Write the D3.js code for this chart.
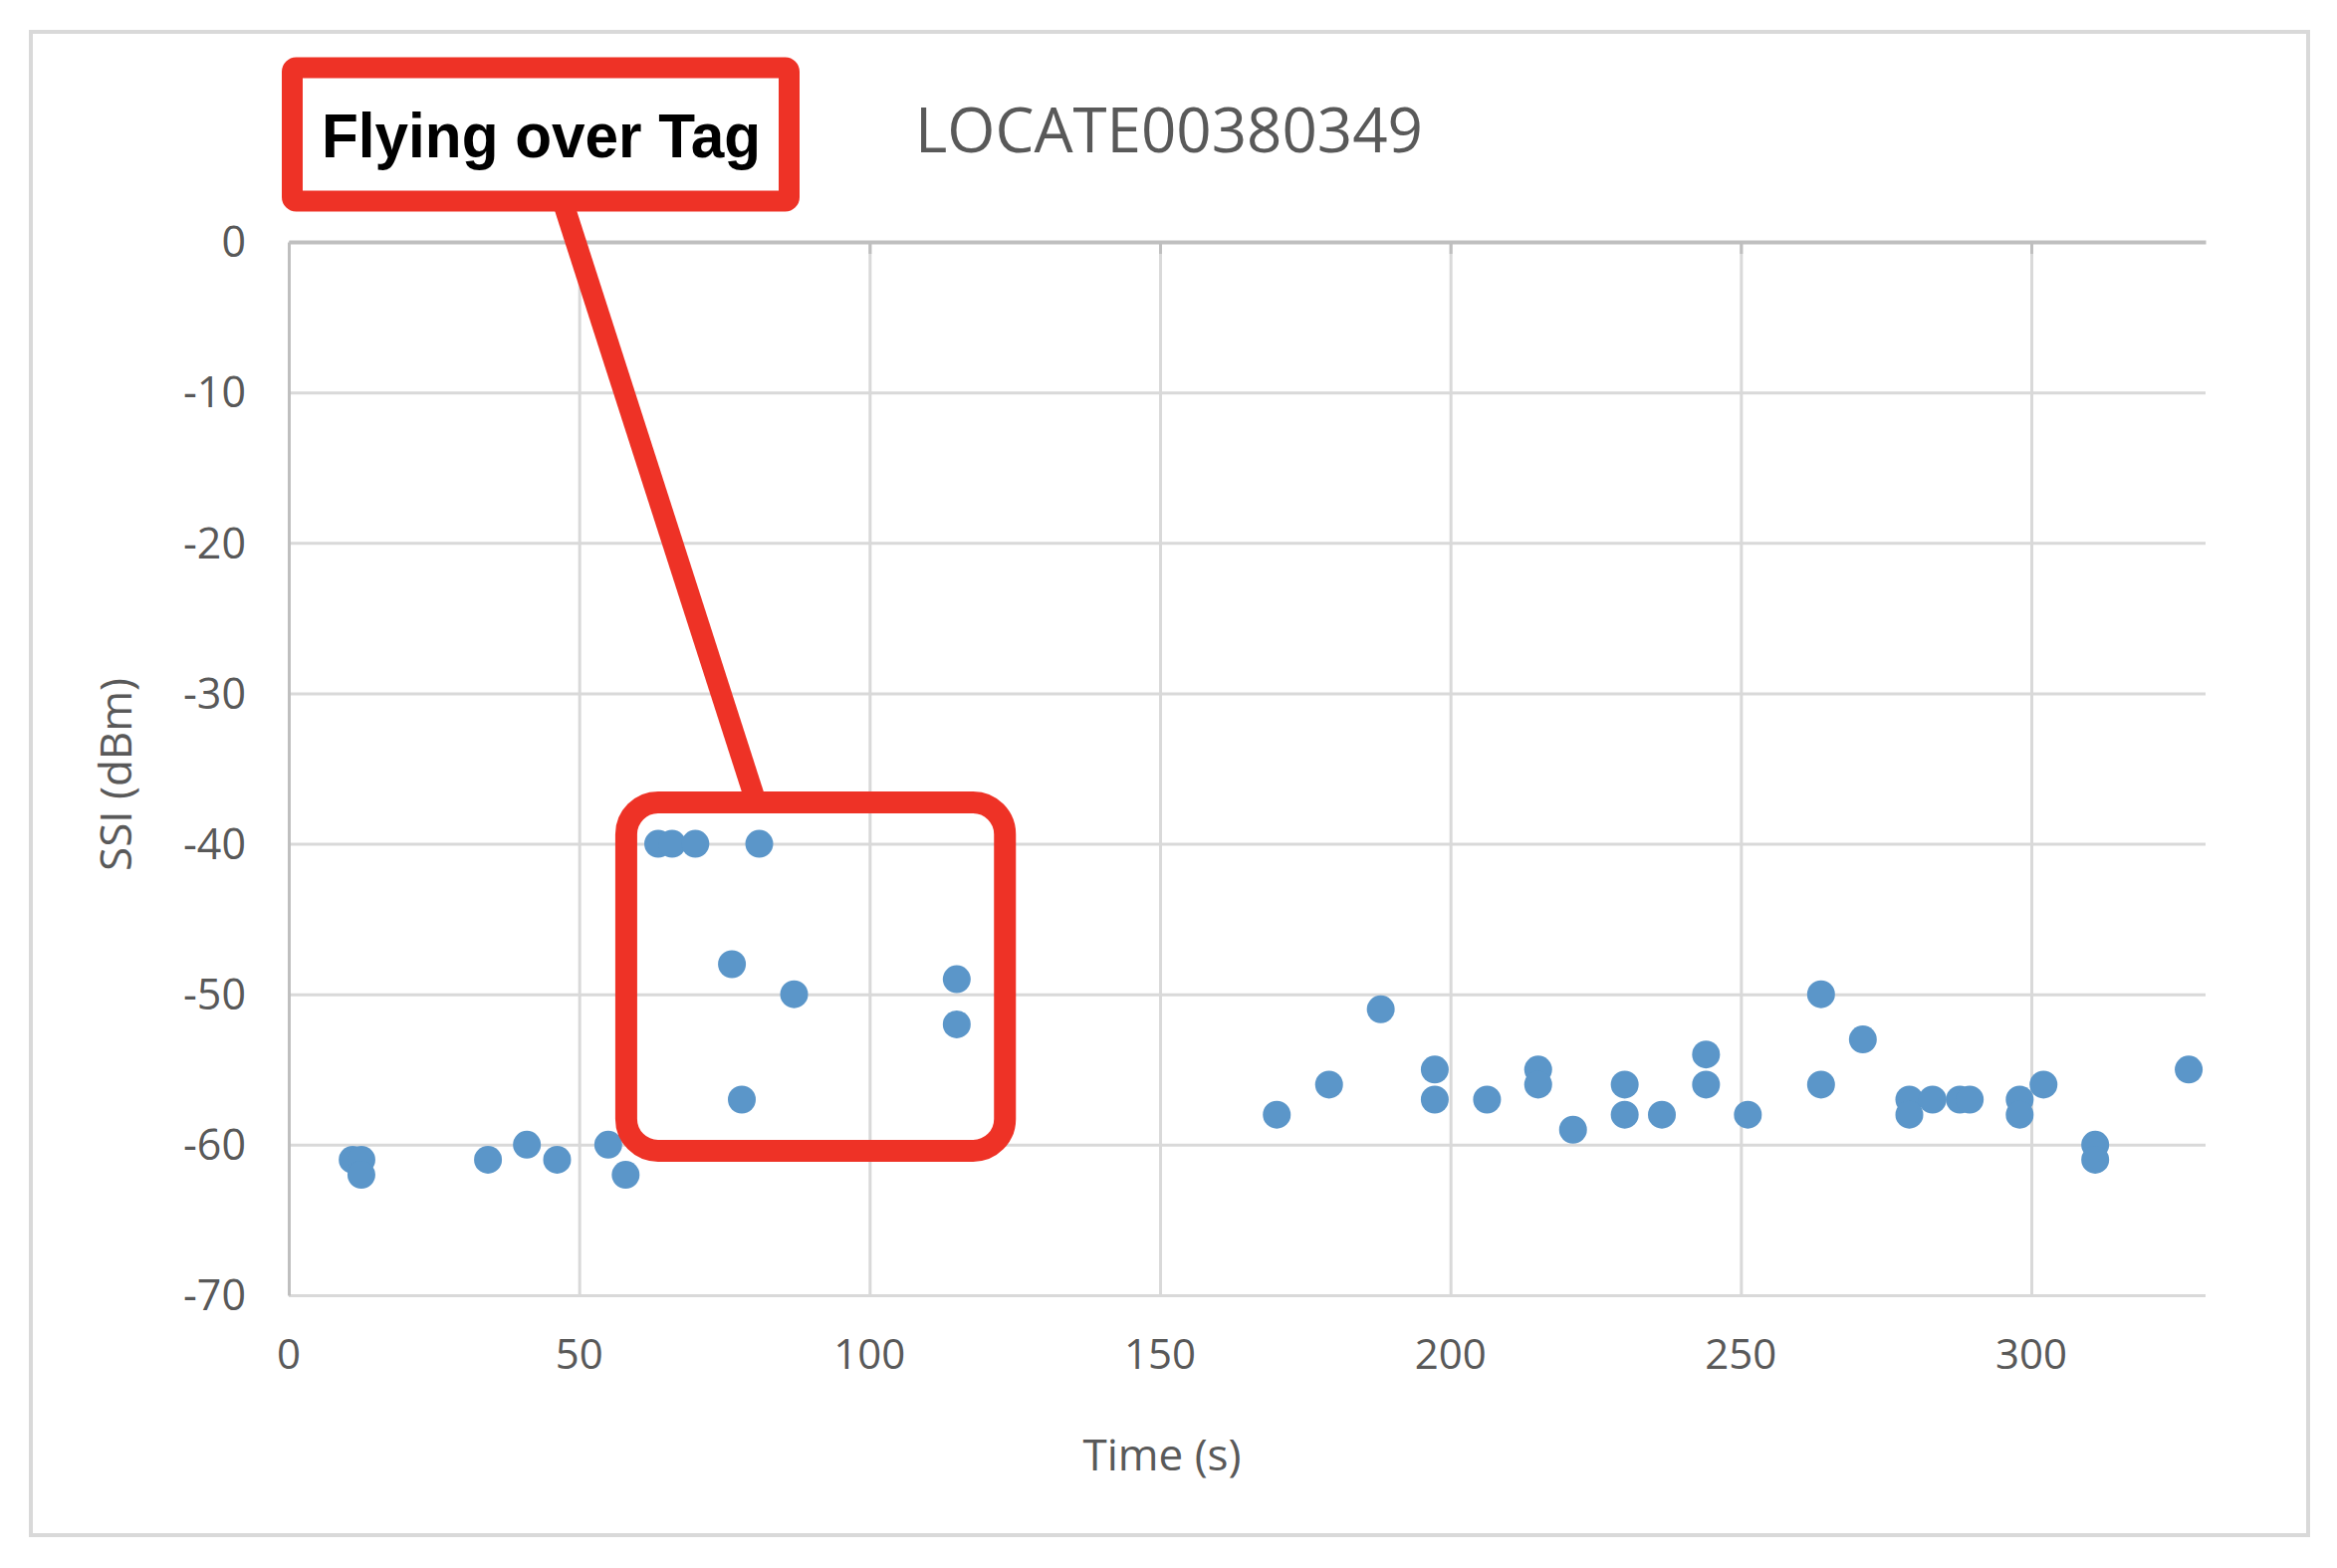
<!DOCTYPE html>
<html>
<head>
<meta charset="utf-8">
<script src="https://cdn.jsdelivr.net/npm/d3@7"></script>
<style>
  html, body { margin: 0; padding: 0; background: #ffffff; }
  svg text { font-family: "Open Sans", "DejaVu Sans", sans-serif; }
</style>
</head>
<body>
<script>
// ---------- data ----------
const chartTitle = "LOCATE00380349";
const xAxisTitle = "Time (s)";
const yAxisTitle = "SSI (dBm)";
const calloutText = "Flying over Tag";

const timeS = [11, 12.5, 12.5, 34.3, 41, 46.2, 55, 58,
  63.6, 66, 70, 81, 76.3, 87, 78, 115, 115,
  170.1, 179.1, 188, 197.3, 197.3, 206.3, 215.1, 215.1, 221.1, 230, 230, 236.4,
  244, 244, 251.2, 263.8, 263.8, 271, 279, 279, 283, 287.7, 289.4, 298, 298,
  302.1, 311, 311, 327.1];
const ssiDbm = [-61, -61, -62, -61, -60, -61, -60, -62,
  -40, -40, -40, -40, -48, -50, -57, -49, -52,
  -58, -56, -51, -55, -57, -57, -55, -56, -59, -56, -58, -58,
  -54, -56, -58, -50, -56, -53, -57, -58, -57, -57, -57, -57, -58,
  -56, -60, -61, -55];

const xTicks = [0, 50, 100, 150, 200, 250, 300];
const yTicks = [0, -10, -20, -30, -40, -50, -60, -70];
const xDomain = [0, 330];
const yDomain = [-70, 0];

// highlighted region (data units)
const highlightX = [58.1, 123.3];
const highlightY = [-37.25, -60.4];

// ---------- layout ----------
const W = 2347, H = 1575;
const plot = { left: 290, right: 2215, top: 243, bottom: 1301 };
const gridColor = "#d9d9d9";
const axisColor = "#bfbfbf";
const textColor = "#595959";
const dotColor = "#5b96c9";
const red = "#ee3226";

const svg = d3.select("body").append("svg")
  .attr("width", W).attr("height", H)
  .attr("viewBox", `0 0 ${W} ${H}`);

svg.append("rect").attr("x", 0).attr("y", 0).attr("width", W).attr("height", H).attr("fill", "#fff");

// outer chart border
svg.append("rect")
  .attr("x", 31).attr("y", 32).attr("width", 2287).attr("height", 1510)
  .attr("fill", "none").attr("stroke", gridColor).attr("stroke-width", 4);

const x = d3.scaleLinear().domain(xDomain).range([plot.left, plot.right]);
const y = d3.scaleLinear().domain(yDomain).range([plot.bottom, plot.top]);

// horizontal gridlines
const yGrid = svg.append("g")
  .attr("transform", `translate(${plot.left},0)`)
  .call(d3.axisLeft(y).tickValues(yTicks).tickSize(-(plot.right - plot.left)).tickFormat(""));
yGrid.select(".domain").remove();
yGrid.selectAll(".tick line").attr("stroke", gridColor).attr("stroke-width", 3);

// vertical gridlines
const xGrid = svg.append("g")
  .attr("transform", `translate(0,${plot.bottom})`)
  .call(d3.axisBottom(x).tickValues(xTicks.filter(d => d > 0)).tickSize(-(plot.bottom - plot.top)).tickFormat(""));
xGrid.select(".domain").remove();
xGrid.selectAll(".tick line").attr("stroke", gridColor).attr("stroke-width", 3);

// x axis line (crosses at y = 0, top) with small tick marks
const xAxisTop = svg.append("g")
  .attr("transform", `translate(0,${y(0)})`)
  .call(d3.axisBottom(x).tickValues(xTicks.filter(d => d > 0)).tickSize(12).tickSizeOuter(0).tickFormat(""));
xAxisTop.select(".domain").attr("stroke", axisColor).attr("stroke-width", 4);
xAxisTop.selectAll(".tick line").attr("stroke", axisColor).attr("stroke-width", 3);

// y axis line
const yAxisLine = svg.append("g")
  .attr("transform", `translate(${plot.left},0)`)
  .call(d3.axisLeft(y).tickValues(yTicks).tickSize(0).tickSizeOuter(0).tickFormat(""));
yAxisLine.select(".domain").attr("stroke", axisColor).attr("stroke-width", 3);

// y tick labels
svg.append("g").selectAll("text").data(yTicks).join("text")
  .attr("x", 247).attr("y", d => y(d)).attr("dy", "0.357em")
  .attr("text-anchor", "end")
  .attr("font-size", 43).attr("fill", textColor)
  .text(d => d3.format("d")(d).replace("−", "-"));

// x tick labels
svg.append("g").selectAll("text").data(xTicks).join("text")
  .attr("x", d => x(d)).attr("y", 1375)
  .attr("text-anchor", "middle")
  .attr("font-size", 42).attr("fill", textColor)
  .text(d => d);

// axis titles
svg.append("text")
  .attr("x", 1167).attr("y", 1477).attr("text-anchor", "middle")
  .attr("font-size", 44).attr("fill", textColor)
  .text(xAxisTitle);

svg.append("text")
  .attr("transform", "translate(115,778) rotate(-90)")
  .attr("text-anchor", "middle").attr("dominant-baseline", "central")
  .attr("font-size", 44).attr("fill", textColor)
  .text(yAxisTitle);

// chart title
svg.append("text")
  .attr("x", 919).attr("y", 153)
  .attr("font-size", 63).attr("fill", textColor)
  .attr("textLength", 510).attr("lengthAdjust", "spacingAndGlyphs")
  .text(chartTitle);

// points
const pts = timeS.map((t, i) => ({ t, v: ssiDbm[i] }));
svg.append("g").selectAll("circle").data(pts).join("circle")
  .attr("cx", d => x(d.t)).attr("cy", d => y(d.v)).attr("r", 14)
  .attr("fill", dotColor);

// ---------- annotation ----------
const ann = svg.append("g");
const hx0 = x(highlightX[0]), hx1 = x(highlightX[1]);
const hy0 = y(highlightY[0]), hy1 = y(highlightY[1]);

// connector line
ann.append("line")
  .attr("x1", 566).attr("y1", 205).attr("x2", 760).attr("y2", hy0 + 2)
  .attr("stroke", red).attr("stroke-width", 21);

// highlight rounded rectangle
ann.append("rect")
  .attr("x", hx0).attr("y", hy0).attr("width", hx1 - hx0).attr("height", hy1 - hy0)
  .attr("rx", 32).attr("ry", 32)
  .attr("fill", "none").attr("stroke", red).attr("stroke-width", 22);

// callout box
ann.append("rect")
  .attr("x", 293.5).attr("y", 68).attr("width", 499).attr("height", 134)
  .attr("rx", 4).attr("ry", 4)
  .attr("fill", "#ffffff").attr("stroke", red).attr("stroke-width", 21);

ann.append("text")
  .attr("x", 323).attr("y", 158)
  .attr("font-family", "'Liberation Sans', Arial, sans-serif")
  .style("font-family", "'Liberation Sans', Arial, sans-serif")
  .attr("font-weight", "bold").attr("font-size", 63).attr("fill", "#000")
  .attr("textLength", 441).attr("lengthAdjust", "spacingAndGlyphs")
  .text(calloutText);
</script>
</body>
</html>
